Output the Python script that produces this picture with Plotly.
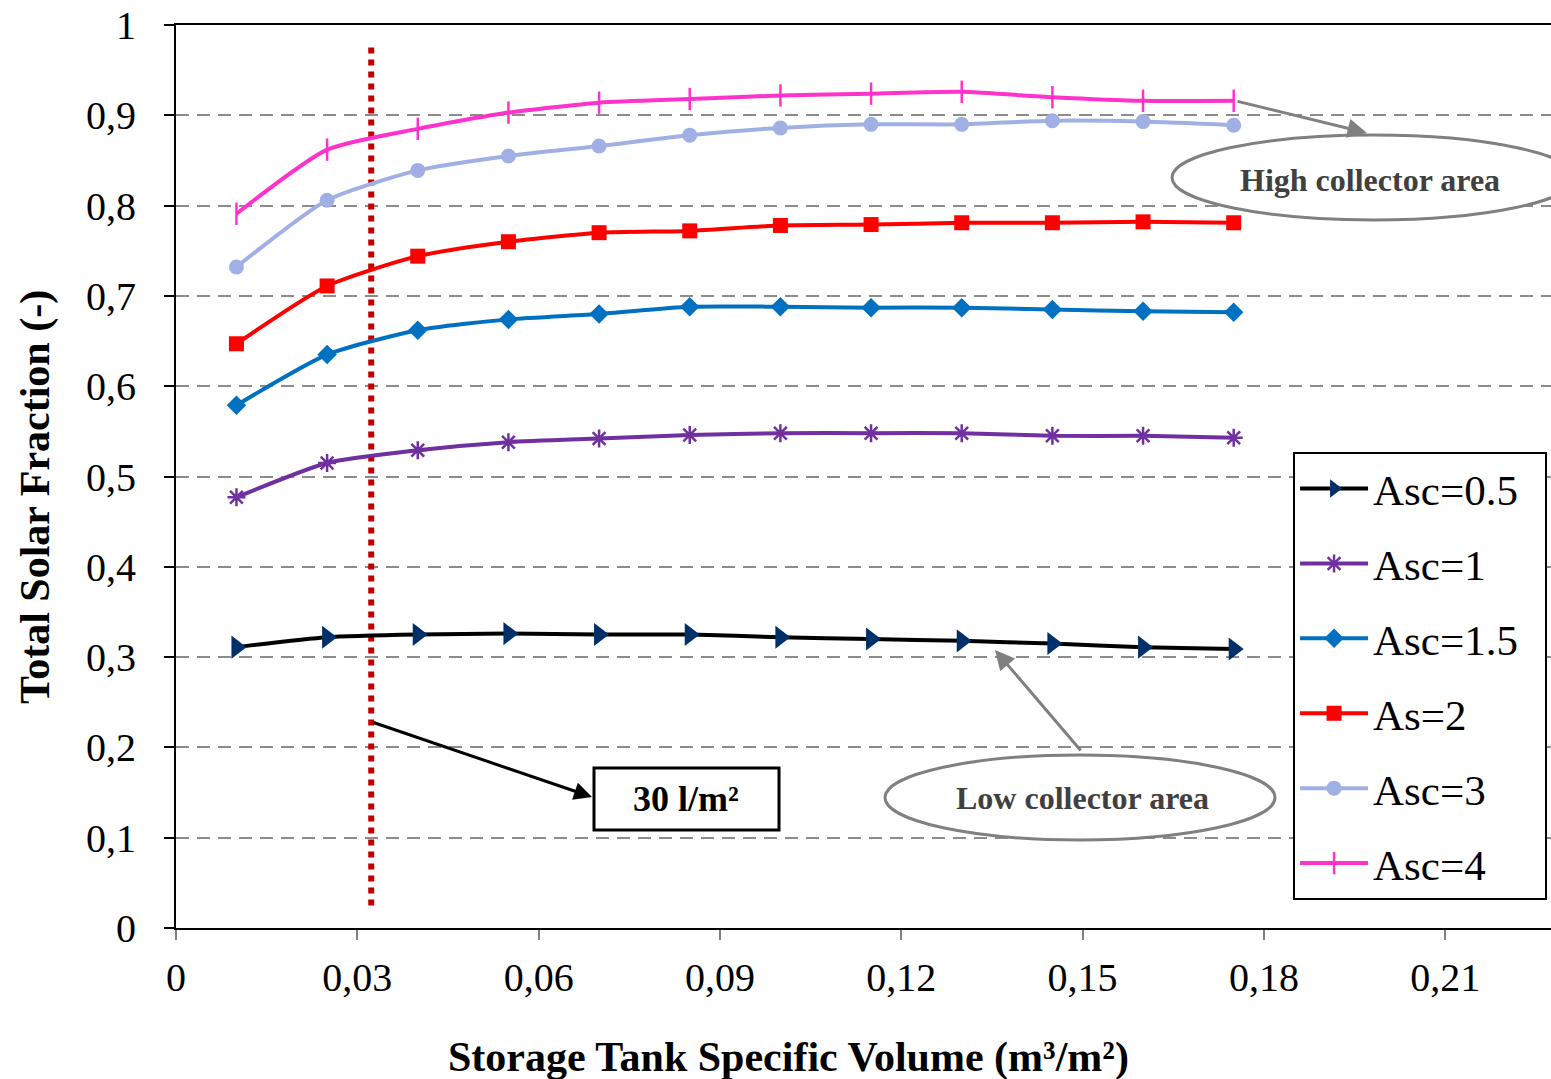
import plotly.graph_objects as go

# ---------------- data ----------------
volume = [0.01, 0.025, 0.04, 0.055, 0.07, 0.085, 0.1, 0.115, 0.13, 0.145, 0.16, 0.175]

asc_05 = [0.311, 0.322, 0.325, 0.326, 0.325, 0.325, 0.322, 0.320, 0.318, 0.315, 0.311, 0.309]
asc_1 = [0.477, 0.515, 0.529, 0.538, 0.542, 0.546, 0.548, 0.548, 0.548, 0.545, 0.545, 0.543]
asc_15 = [0.579, 0.635, 0.662, 0.674, 0.680, 0.688, 0.688, 0.687, 0.687, 0.685, 0.683, 0.682]
as_2 = [0.647, 0.711, 0.744, 0.760, 0.770, 0.772, 0.778, 0.779, 0.781, 0.781, 0.782, 0.781]
asc_3 = [0.732, 0.806, 0.839, 0.855, 0.866, 0.878, 0.886, 0.890, 0.890, 0.894, 0.893, 0.889]
asc_4 = [0.791, 0.862, 0.885, 0.903, 0.914, 0.918, 0.922, 0.924, 0.926, 0.920, 0.916, 0.916]

series_names = ["Asc=0.5", "Asc=1", "Asc=1.5", "As=2", "Asc=3", "Asc=4"]

x_tickvals = [0, 0.03, 0.06, 0.09, 0.12, 0.15, 0.18, 0.21]
x_ticktext = ["0", "0,03", "0,06", "0,09", "0,12", "0,15", "0,18", "0,21"]
y_tickvals = [0, 0.1, 0.2, 0.3, 0.4, 0.5, 0.6, 0.7, 0.8, 0.9, 1.0]
y_ticktext = ["0", "0,1", "0,2", "0,3", "0,4", "0,5", "0,6", "0,7", "0,8", "0,9", "1"]

x_title = "Storage Tank Specific Volume (m³/m²)"
y_title = "Total Solar Fraction (-)"

ref_volume = 0.0323  # 30 l/m2 marker line

# ---------------- styles ----------------
FONT = "'Liberation Serif', 'Times New Roman', serif"
styles = [
    dict(line=dict(color="#000000", width=4), marker=dict(symbol="triangle-right", size=20, color="#00306A")),
    dict(line=dict(color="#7030A0", width=4), marker=dict(symbol="asterisk-open", size=15, color="#7030A0", line=dict(width=2.5, color="#7030A0"))),
    dict(line=dict(color="#0070C0", width=4), marker=dict(symbol="diamond", size=15, color="#0070C0")),
    dict(line=dict(color="#FF0000", width=4), marker=dict(symbol="square", size=15, color="#FF0000")),
    dict(line=dict(color="#A0B0E4", width=4), marker=dict(symbol="circle", size=15, color="#A0B0E4")),
    dict(line=dict(color="#FF33CC", width=4), marker=dict(symbol="line-ns-open", size=16, color="#FF33CC", line=dict(width=2.5, color="#FF33CC"))),
]
all_series = [asc_05, asc_1, asc_15, as_2, asc_3, asc_4]

fig = go.Figure()

# reference dotted line (30 l/m2)
fig.add_trace(go.Scatter(
    x=[ref_volume, ref_volume], y=[0.025, 0.978], mode="lines",
    line=dict(color="#C00000", width=6, dash="dot"), showlegend=False, hoverinfo="skip"))

for i, (name, vals, st) in enumerate(zip(series_names, all_series, styles)):
    fig.add_trace(go.Scatter(
        x=volume, y=vals, name=name + "\u00a0\u00a0", mode="lines+markers",
        line=dict(shape="spline", smoothing=0.6, **st["line"]),
        marker=st["marker"], legendgroup=f"g{i}"))

def px_x(p):
    return (p - 176) / 6044.0

def px_y(p):
    return (928 - p) / 903.0

GRAY = "#808080"
shapes = [
    dict(type="circle", xref="x", yref="y", x0=px_x(885), x1=px_x(1275), y0=px_y(840), y1=px_y(755),
         line=dict(color=GRAY, width=3), fillcolor="white", layer="above"),
    dict(type="circle", xref="x", yref="y", x0=px_x(1172), x1=px_x(1575), y0=px_y(220), y1=px_y(135),
         line=dict(color=GRAY, width=3), fillcolor="white", layer="above"),
    dict(type="rect", xref="x", yref="y", x0=px_x(594), x1=px_x(779), y0=px_y(830), y1=px_y(768),
         line=dict(color="black", width=3), fillcolor="white", layer="above"),
]

annotations = [
    dict(x=px_x(1082), y=px_y(798), xref="x", yref="y", text="<b>Low collector area</b>", showarrow=False,
         font=dict(family=FONT, size=32, color="#404040")),
    dict(x=px_x(1370), y=px_y(180), xref="x", yref="y", text="<b>High collector area</b>", showarrow=False,
         font=dict(family=FONT, size=32, color="#404040")),
    dict(x=px_x(686), y=px_y(799), xref="x", yref="y", text="<b>30 l/m²</b>", showarrow=False,
         font=dict(family=FONT, size=36, color="black")),
    dict(x=px_x(995), y=px_y(650), ax=px_x(1082), ay=px_y(752), xref="x", yref="y", axref="x", ayref="y",
         text="", showarrow=True, arrowhead=2, arrowsize=1.3, arrowwidth=3, arrowcolor=GRAY),
    dict(x=px_x(1367), y=px_y(133), ax=px_x(1236), ay=px_y(101), xref="x", yref="y", axref="x", ayref="y",
         text="", showarrow=True, arrowhead=2, arrowsize=1.3, arrowwidth=3, arrowcolor=GRAY),
    dict(x=px_x(592), y=px_y(797), ax=px_x(372), ay=px_y(722), xref="x", yref="y", axref="x", ayref="y",
         text="", showarrow=True, arrowhead=2, arrowsize=1.2, arrowwidth=3, arrowcolor="black"),
    # axis titles
    dict(x=(788 - 176) / 1375.0, y=(928 - 1057) / 903.0, xref="paper", yref="paper",
         text=f"<b>{x_title}</b>", showarrow=False, xanchor="center", yanchor="middle",
         font=dict(family=FONT, size=42, color="black")),
    dict(x=(36 - 176) / 1375.0, y=(928 - 497) / 903.0, xref="paper", yref="paper",
         text=f"<b>{y_title}</b>", showarrow=False, textangle=-90, xanchor="center", yanchor="middle",
         font=dict(family=FONT, size=42, color="black")),
]

fig.update_layout(
    width=1551, height=1079,
    margin=dict(l=176, r=0, t=25, b=151),
    plot_bgcolor="white", paper_bgcolor="white",
    font=dict(family=FONT, size=40, color="black"),
    shapes=shapes, annotations=annotations,
    legend=dict(x=0.8124, y=0.527, xanchor="left", yanchor="top",
                bordercolor="black", borderwidth=2, bgcolor="white",
                font=dict(family=FONT, size=43, color="black"),
                tracegroupgap=16, itemwidth=68),
    showlegend=True,
)

fig.update_xaxes(
    range=[0, (1551 - 176) / 6044.0], tickvals=x_tickvals, ticktext=x_ticktext,
    showgrid=False, zeroline=False, showline=True, linecolor="black", linewidth=2, mirror=True,
    ticks="outside", ticklen=10, tickcolor="#808080", tickwidth=2, ticklabelstandoff=3,
    tickfont=dict(family=FONT, size=40),
)
fig.update_yaxes(
    range=[0, 1], tickvals=y_tickvals, ticktext=y_ticktext,
    showgrid=True, gridcolor="#8C8C8C", gridwidth=2, griddash="13px,8px",
    zeroline=False, showline=True, linecolor="black", linewidth=2,
    ticks="outside", ticklen=10, tickcolor="black", tickwidth=2, ticklabelstandoff=20,
    tickfont=dict(family=FONT, size=40),
)

fig.write_html("out.html")
